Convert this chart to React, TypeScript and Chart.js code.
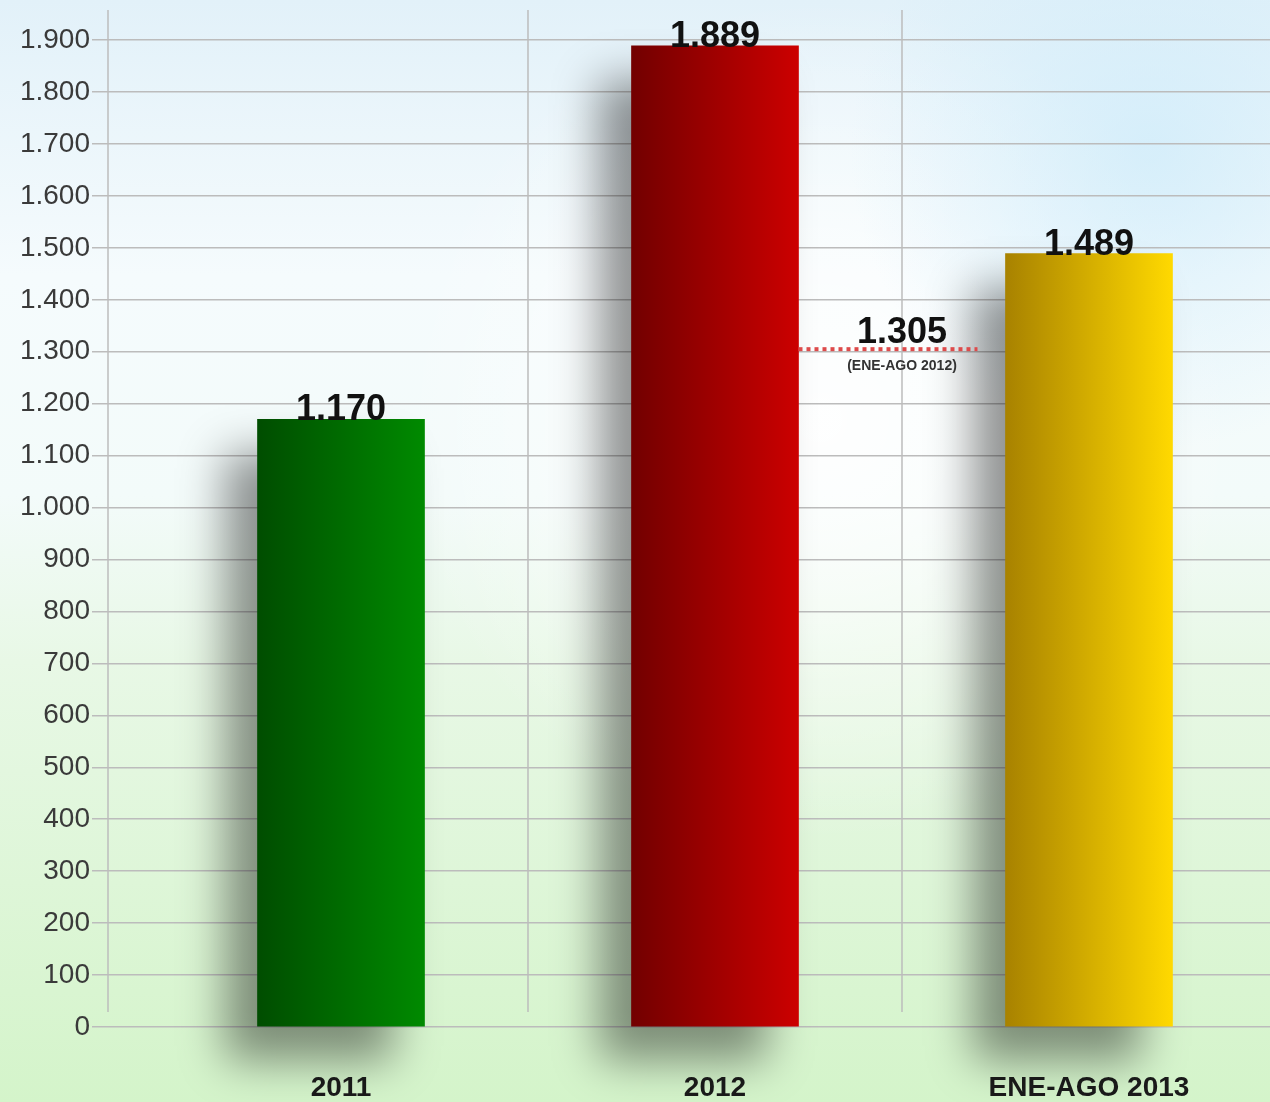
import React, { useEffect, useRef } from "react";
import { Chart, registerables } from "chart.js";

Chart.register(...registerables);

const CATEGORIES = ["2011", "2012", "ENE-AGO 2013"];
const VALUES = [1170, 1889, 1489];
const BAR_GRADIENTS = [
  ["#004d00", "#008a00"],
  ["#720000", "#cc0000"],
  ["#a88200", "#ffd900"],
];
const REFERENCE_VALUE = 1305;
const REFERENCE_NOTE = "(ENE-AGO 2012)";
const Y_STEP = 100;
const Y_MAX = 1958;

const fmt = (v: number) => String(Math.round(v)).replace(/\B(?=(\d{3})+(?!\d))/g, ".");

const FONT = "'Liberation Sans', Arial, sans-serif";
const BAR_W = 167;

export default function App() {
  const ref = useRef<HTMLCanvasElement | null>(null);

  useEffect(() => {
    if (!ref.current) return;

    const decor = {
      id: "decor",
      beforeDraw(chart: any) {
        const { ctx, width, height } = chart;
        ctx.save();
        const g = ctx.createLinearGradient(0, 0, 0, height);
        g.addColorStop(0, "#e2f1f9");
        g.addColorStop(0.25, "#f5fbfd");
        g.addColorStop(0.45, "#f3fbfa");
        g.addColorStop(0.6, "#e8f8e6");
        g.addColorStop(1, "#d4f4ca");
        ctx.fillStyle = g;
        ctx.fillRect(0, 0, width, height);
        const r = ctx.createRadialGradient(820, 420, 10, 820, 420, 420);
        r.addColorStop(0, "rgba(255,255,255,0.9)");
        r.addColorStop(1, "rgba(255,255,255,0)");
        ctx.fillStyle = r;
        ctx.fillRect(0, 0, width, height);
        const r2 = ctx.createRadialGradient(1150, 150, 10, 1150, 150, 300);
        r2.addColorStop(0, "rgba(205,235,250,0.7)");
        r2.addColorStop(1, "rgba(205,235,250,0)");
        ctx.fillStyle = r2;
        ctx.fillRect(0, 0, width, height);
        ctx.restore();
      },
      beforeDatasetsDraw(chart: any) {
        const { ctx, chartArea, scales } = chart;
        const x = scales.x;
        ctx.save();
        ctx.strokeStyle = "#bcbcbc";
        ctx.lineWidth = 1.5;
        const xs = [chartArea.left, x.getPixelForValue(0.5), x.getPixelForValue(1.5)];
        xs.forEach((px) => {
          ctx.beginPath();
          ctx.moveTo(px, chartArea.top);
          ctx.lineTo(px, chartArea.bottom - 15);
          ctx.stroke();
        });
        ctx.restore();
        ctx.save();
        ctx.shadowColor = "rgba(0,0,0,0.42)";
        ctx.shadowBlur = 42;
        ctx.shadowOffsetX = -32;
        ctx.shadowOffsetY = 34;
      },
      afterDatasetsDraw(chart: any) {
        const { ctx, scales } = chart;
        ctx.restore();
        const meta = chart.getDatasetMeta(0);
        ctx.save();
        ctx.fillStyle = "#111";
        ctx.font = `bold 36px ${FONT}`;
        ctx.textAlign = "center";
        ctx.textBaseline = "alphabetic";
        meta.data.forEach((bar: any, i: number) => {
          ctx.fillText(fmt(VALUES[i]), bar.x, bar.y + 1);
        });
        const b1 = meta.data[1];
        const b2 = meta.data[2];
        const xStart = b1.x + BAR_W / 2;
        const xEnd = b2.x - BAR_W / 2 - 28;
        const yRef = scales.y.getPixelForValue(REFERENCE_VALUE);
        ctx.strokeStyle = "#dd4b4b";
        ctx.lineWidth = 4;
        ctx.setLineDash([4, 4]);
        ctx.beginPath();
        ctx.moveTo(xStart, yRef);
        ctx.lineTo(xEnd, yRef);
        ctx.stroke();
        ctx.setLineDash([]);
        const cx = (xStart + b2.x - BAR_W / 2) / 2;
        ctx.fillStyle = "#111";
        ctx.font = `bold 36px ${FONT}`;
        ctx.fillText(fmt(REFERENCE_VALUE), cx, yRef - 6);
        ctx.fillStyle = "#333";
        ctx.font = `bold 14px ${FONT}`;
        ctx.fillText(REFERENCE_NOTE, cx, yRef + 21);
        ctx.restore();
      },
    };

    const chart = new Chart(ref.current, {
      type: "bar",
      data: {
        datasets: [
          {
            data: VALUES.map((v, i) => ({ x: i, y: v })),
            barThickness: BAR_W,
            borderWidth: 0,
            clip: false,
            backgroundColor: (c: any) => {
              const chartObj = c.chart;
              const xs = chartObj.scales?.x;
              if (!chartObj.chartArea || !xs || c.dataIndex === undefined) return BAR_GRADIENTS[0][1];
              const cx = xs.getPixelForValue(c.dataIndex);
              const g = chartObj.ctx.createLinearGradient(cx - BAR_W / 2, 0, cx + BAR_W / 2, 0);
              const [a, b] = BAR_GRADIENTS[c.dataIndex];
              g.addColorStop(0, a);
              g.addColorStop(1, b);
              return g;
            },
          } as any,
        ],
      },
      options: {
        animation: false,
        responsive: true,
        maintainAspectRatio: false,
        layout: { padding: { top: 10, left: 0, right: 0, bottom: 0 } },
        plugins: { legend: { display: false }, tooltip: { enabled: false } },
        scales: {
          x: {
            type: "linear",
            offset: false,
            min: -0.623,
            max: 2.484,
            grid: { display: false, drawTicks: false, offset: false },
            border: { display: false },
            afterBuildTicks: (s: any) => {
              s.ticks = CATEGORIES.map((_, i) => ({ value: i }));
            },
            afterFit: (s: any) => {
              s.height = 75;
              s.paddingLeft = 0;
              s.paddingRight = 0;
            },
            ticks: {
              padding: 44,
              autoSkip: false,
              maxRotation: 0,
              color: "#1a1a1a",
              font: { family: FONT, size: 28, weight: "bold" },
              callback: (v: any) => CATEGORIES[Math.round(v)] ?? "",
            },
          },
          y: {
            min: 0,
            max: Y_MAX,
            grid: { color: "#bcbcbc", lineWidth: 1.5, tickLength: 16, drawTicks: true },
            border: { display: false },
            afterFit: (s: any) => {
              s.width = 108;
              s.paddingTop = 0;
              s.paddingBottom = 0;
            },
            ticks: {
              stepSize: Y_STEP,
              includeBounds: false,
              padding: 2,
              color: "#3a3a3a",
              font: { family: FONT, size: 28 },
              callback: (v: any) => fmt(Number(v)),
            },
          },
        },
      },
      plugins: [decor],
    } as any);

    return () => chart.destroy();
  }, []);

  return (
    <div style={{ position: "absolute", left: 0, top: 0, width: 1270, height: 1102 }}>
      <canvas ref={ref} />
    </div>
  );
}
